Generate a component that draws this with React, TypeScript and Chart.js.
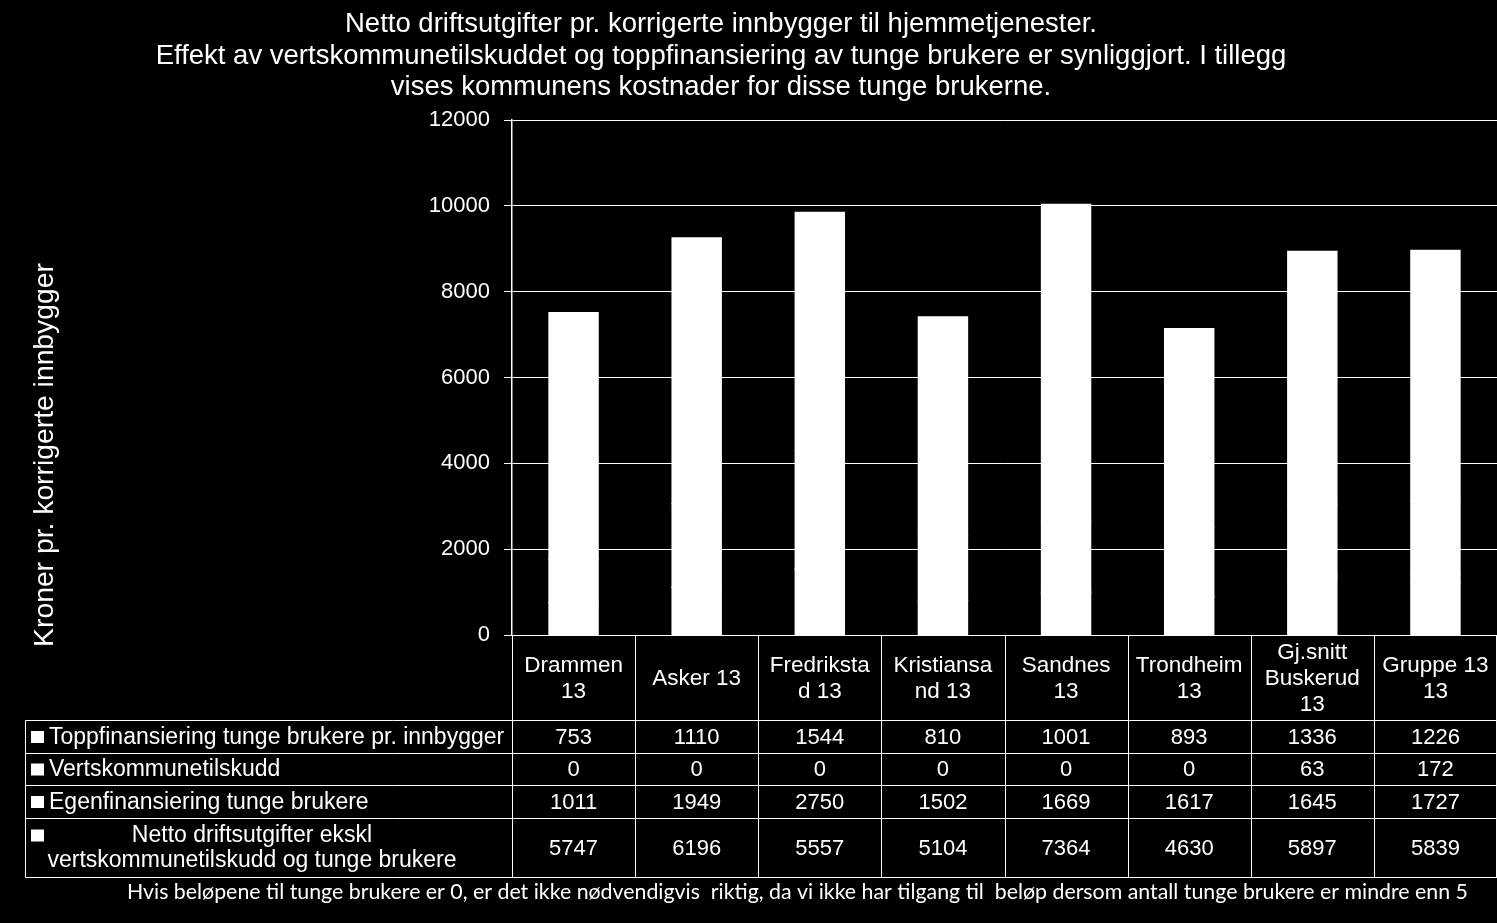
import React, { useEffect, useRef } from "react";
import { Chart, registerables } from "chart.js";

Chart.register(...registerables);

const titleLines = [
  "Netto driftsutgifter pr. korrigerte innbygger til hjemmetjenester.",
  "Effekt av vertskommunetilskuddet og toppfinansiering av tunge brukere er synliggjort. I tillegg",
  "vises kommunens kostnader for disse tunge brukerne.",
];
const yTitle = "Kroner pr. korrigerte innbygger";
const footer =
  "Hvis beløpene til tunge brukere er 0, er det ikke nødvendigvis  riktig, da vi ikke har tilgang til  beløp dersom antall tunge brukere er mindre enn 5";

const categories: string[][] = [
  ["Drammen", "13"],
  ["Asker 13"],
  ["Fredriksta", "d 13"],
  ["Kristiansa", "nd 13"],
  ["Sandnes", "13"],
  ["Trondheim", "13"],
  ["Gj.snitt", "Buskerud", "13"],
  ["Gruppe 13", "13"],
];

const seriesNames: string[][] = [
  ["Toppfinansiering tunge brukere pr. innbygger"],
  ["Vertskommunetilskudd"],
  ["Egenfinansiering tunge brukere"],
  ["Netto driftsutgifter ekskl", "vertskommunetilskudd og tunge brukere"],
];

const toppfinansiering = [753, 1110, 1544, 810, 1001, 893, 1336, 1226];
const vertskommunetilskudd = [0, 0, 0, 0, 0, 0, 63, 172];
const egenfinansiering = [1011, 1949, 2750, 1502, 1669, 1617, 1645, 1727];
const nettoEkskl = [5747, 6196, 5557, 5104, 7364, 4630, 5897, 5839];

const seriesValues = [toppfinansiering, vertskommunetilskudd, egenfinansiering, nettoEkskl];

const yTicks = { min: 0, max: 12000, step: 2000 };

const FONT = '"Liberation Sans", Arial, sans-serif';

const decorPlugin = {
  id: "decor",
  beforeDraw(chart: any) {
    const ctx = chart.ctx;
    ctx.save();
    ctx.fillStyle = "#000";
    ctx.fillRect(0, 0, chart.width, chart.height);
    ctx.restore();
  },
  afterDraw(chart: any) {
    const ctx: CanvasRenderingContext2D = chart.ctx;
    const area = chart.chartArea;
    const xs = chart.scales.x;
    const n = categories.length;
    const colW = (area.right - area.left) / n;
    ctx.save();
    ctx.fillStyle = "#fff";
    ctx.strokeStyle = "#fff";

    // Title
    ctx.font = `27.5px ${FONT}`;
    ctx.textAlign = "center";
    ctx.textBaseline = "alphabetic";
    const titleBase = [32, 63.5, 95];
    titleLines.forEach((t, i) => ctx.fillText(t, 721, titleBase[i]));

    // Y axis title
    ctx.save();
    ctx.translate(53, 455);
    ctx.rotate(-Math.PI / 2);
    ctx.font = `28.3px ${FONT}`;
    ctx.textAlign = "center";
    ctx.fillText(yTitle, 0, 0);
    ctx.restore();

    // Data table
    const tableLeft = 25.5;
    const headerTop = area.bottom;
    const headerBottom = 720.5;
    const rowEdges = [720.5, 753.5, 785.5, 818.5, 877.5];
    ctx.lineWidth = 1;
    ctx.beginPath();
    ctx.moveTo(area.left, Math.round(headerTop) + 0.5);
    ctx.lineTo(area.right, Math.round(headerTop) + 0.5);
    rowEdges.forEach((y) => {
      ctx.moveTo(tableLeft, y);
      ctx.lineTo(area.right, y);
    });
    ctx.moveTo(tableLeft, headerBottom);
    ctx.lineTo(tableLeft, rowEdges[rowEdges.length - 1]);
    for (let i = 0; i <= n; i++) {
      const x = Math.round(xs.getPixelForValue(i) - colW / 2) + 0.5;
      ctx.moveTo(Math.min(x, area.right - 0.5), headerTop);
      ctx.lineTo(Math.min(x, area.right - 0.5), rowEdges[rowEdges.length - 1]);
    }
    ctx.stroke();

    // Header labels
    ctx.font = `22.5px ${FONT}`;
    ctx.textAlign = "center";
    ctx.textBaseline = "middle";
    const hMid = (headerTop + headerBottom) / 2 + 1;
    categories.forEach((lines, i) => {
      const cx = xs.getPixelForValue(i);
      const lh = 26;
      const start = hMid - ((lines.length - 1) * lh) / 2;
      lines.forEach((l, j) => ctx.fillText(l, cx, start + j * lh));
    });

    // Rows
    seriesValues.forEach((vals, r) => {
      const top = rowEdges[r];
      const bot = rowEdges[r + 1];
      const mid = (top + bot) / 2 + 0.5;
      ctx.font = `22px ${FONT}`;
      ctx.textAlign = "center";
      vals.forEach((v, i) => ctx.fillText(String(v), xs.getPixelForValue(i), mid));
      const names = seriesNames[r];
      ctx.font = `23px ${FONT}`;
      if (names.length === 1) {
        ctx.fillRect(31, mid - 6.5, 13, 12);
        ctx.textAlign = "left";
        ctx.fillText(names[0], 49, mid);
      } else {
        const lh = 25;
        const start = mid - ((names.length - 1) * lh) / 2;
        ctx.fillRect(31, start - 6.5, 13, 12);
        ctx.textAlign = "center";
        names.forEach((l, j) => ctx.fillText(l, 252, start + j * lh));
      }
    });

    // Footer
    ctx.textAlign = "left";
    ctx.textBaseline = "alphabetic";
    ctx.font = `20px Lato, "Open Sans", sans-serif`;
    const w = ctx.measureText(footer).width;
    const size = (20 * 1341) / w;
    ctx.font = `${size.toFixed(2)}px Lato, "Open Sans", sans-serif`;
    ctx.fillText(footer, 127, 899);

    ctx.restore();
  },
};

export default function App() {
  const ref = useRef<HTMLCanvasElement | null>(null);
  useEffect(() => {
    document.body.style.margin = "0";
    document.body.style.background = "#000";
    if (!ref.current) return;
    const chart = new Chart(ref.current, {
      type: "bar",
      data: {
        labels: categories.map((c) => c.join(" ")),
        datasets: seriesValues.map((vals, i) => ({
          label: seriesNames[i].join(" "),
          data: vals,
          backgroundColor: "#ffffff",
          borderWidth: 0,
          inflateAmount: 0.6,
          categoryPercentage: 1,
          barPercentage: 0.4,
        })),
      },
      options: {
        responsive: false,
        animation: false,
        devicePixelRatio: 1,
        layout: { padding: { top: 120, bottom: 288, left: 0, right: 0 } },
        plugins: {
          legend: { display: false },
          tooltip: { enabled: false },
          title: { display: false },
        },
        scales: {
          x: { stacked: true, display: false },
          y: {
            stacked: true,
            min: yTicks.min,
            max: yTicks.max,
            ticks: {
              stepSize: yTicks.step,
              color: "#ffffff",
              font: { family: FONT, size: 22 },
              padding: 14,
              callback: (v: any) => String(v),
            },
            grid: {
              color: "#ffffff",
              lineWidth: 1,
              tickLength: 8,
              drawTicks: true,
              tickColor: "#ffffff",
            },
            border: { color: "#ffffff", width: 1.5 },
            afterFit: (s: any) => {
              s.width = 512;
            },
          },
        },
      },
      plugins: [decorPlugin],
    });
    return () => chart.destroy();
  }, []);
  return (
    <div style={{ width: 1497, height: 923, background: "#000" }}>
      <canvas ref={ref} width={1497} height={923} />
    </div>
  );
}
